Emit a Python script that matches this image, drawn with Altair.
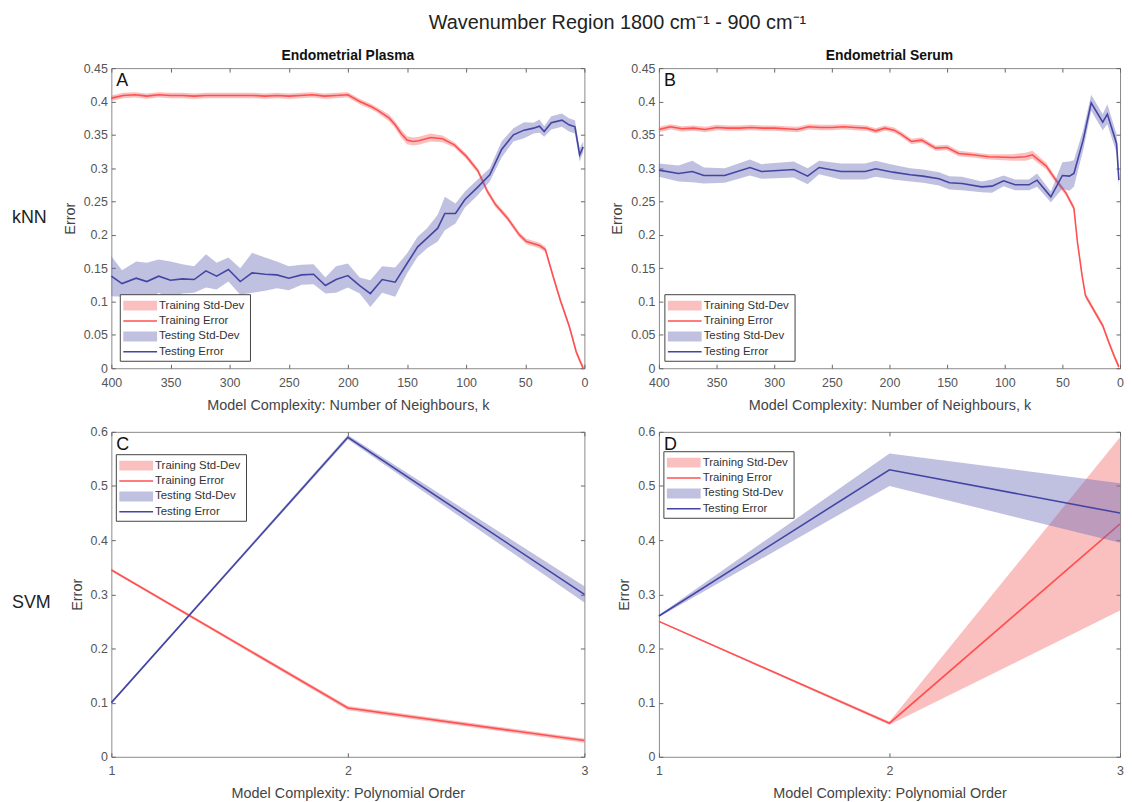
import altair as alt
import pandas as pd

# ---------------- data ----------------
# Panel A (kNN, Endometrial Plasma)
A_k_train = [400, 390, 380, 370, 360, 350, 340, 330, 320, 310, 300, 290, 280, 270, 260, 250, 240, 230,
             220, 210, 200, 190, 180, 175, 165, 160, 155, 150, 145, 140, 130, 120, 110, 100, 90, 82, 75,
             65, 55, 49, 38, 33, 26, 20, 13, 10, 7, 4, 1]
A_train = [0.405, 0.409, 0.41, 0.408, 0.41, 0.409, 0.409, 0.408, 0.409, 0.409, 0.409, 0.409, 0.409,
           0.408, 0.409, 0.408, 0.409, 0.41, 0.408, 0.409, 0.41, 0.4, 0.392, 0.387, 0.375, 0.365, 0.352,
           0.342, 0.34, 0.341, 0.346, 0.344, 0.335, 0.318, 0.296, 0.265, 0.245, 0.225, 0.2, 0.19, 0.184,
           0.178, 0.135, 0.1, 0.064, 0.045, 0.025, 0.012, 0.0]
A_train_sd = [0.004] * 24 + [0.005, 0.005, 0.006, 0.006, 0.006, 0.006, 0.006, 0.005] + [0.004] * 17

A_k_test = [400, 391, 379, 370, 360, 350, 340, 330, 320, 311, 301, 291, 281, 270, 260, 250, 239, 229,
            219, 210, 200, 190, 181, 171, 160, 150, 141, 133, 124, 118, 109, 101, 91, 80, 70, 60, 51,
            43, 38, 34, 28, 19, 13, 8, 4, 1]
A_test = [0.138, 0.127, 0.135, 0.130, 0.138, 0.132, 0.134, 0.133, 0.146, 0.138, 0.148, 0.130, 0.143,
          0.141, 0.140, 0.135, 0.140, 0.141, 0.124, 0.133, 0.139, 0.124, 0.112, 0.133, 0.129, 0.157,
          0.182, 0.195, 0.21, 0.232, 0.232, 0.253, 0.27, 0.29, 0.328, 0.35, 0.357, 0.36, 0.363, 0.355,
          0.368, 0.372, 0.365, 0.362, 0.32, 0.332]
A_test_sd = [0.03, 0.02, 0.025, 0.028, 0.025, 0.028, 0.022, 0.02, 0.025, 0.02, 0.018, 0.02, 0.03,
             0.025, 0.02, 0.018, 0.015, 0.015, 0.012, 0.02, 0.018, 0.012, 0.02, 0.02, 0.022, 0.015,
             0.015, 0.015, 0.02, 0.025, 0.015, 0.012, 0.012, 0.01, 0.012, 0.01, 0.012, 0.008, 0.01,
             0.008, 0.01, 0.01, 0.01, 0.01, 0.01, 0.008]

# Panel B (kNN, Endometrial Serum)
B_k_train = [400, 390, 380, 370, 360, 350, 340, 330, 320, 310, 300, 290, 280, 270, 260, 250, 240, 230,
             220, 212, 204, 196, 190, 181, 172, 160, 150, 140, 128, 114, 93, 82, 76, 64, 56, 47, 40,
             37, 33, 30, 22, 15, 10, 5, 1]
B_train = [0.358, 0.362, 0.359, 0.36, 0.358, 0.361, 0.36, 0.36, 0.361, 0.36, 0.36, 0.359, 0.358, 0.362,
           0.361, 0.361, 0.362, 0.361, 0.36, 0.356, 0.36, 0.357, 0.351, 0.34, 0.342, 0.33, 0.331, 0.322,
           0.32, 0.317, 0.316, 0.317, 0.32, 0.303, 0.283, 0.263, 0.24, 0.19, 0.14, 0.109, 0.085, 0.064,
           0.04, 0.018, 0.002]
B_train_sd = [0.004] * 30 + [0.005, 0.006, 0.006, 0.005] + [0.004] * 11

B_k_test = [400, 383, 371, 361, 343, 321, 311, 283, 271, 261, 242, 221, 212, 197, 182, 171, 157, 148,
            137, 120, 111, 101, 91, 79, 72, 60, 50, 44, 40, 32, 25, 15, 11, 3, 1]
B_test = [0.297, 0.292, 0.295, 0.289, 0.289, 0.301, 0.295, 0.298, 0.288, 0.301, 0.295, 0.295, 0.299,
          0.294, 0.29, 0.288, 0.284, 0.278, 0.277, 0.272, 0.273, 0.281, 0.275, 0.275, 0.282, 0.257,
          0.289, 0.288, 0.292, 0.342, 0.398, 0.369, 0.381, 0.337, 0.282]
B_test_sd = [0.01, 0.012, 0.016, 0.012, 0.011, 0.012, 0.011, 0.012, 0.012, 0.01, 0.012, 0.012, 0.012,
             0.011, 0.01, 0.01, 0.01, 0.01, 0.01, 0.008, 0.01, 0.008, 0.008, 0.008, 0.01, 0.008, 0.02,
             0.022, 0.02, 0.015, 0.012, 0.012, 0.015, 0.014, 0.01]

# Panel C (SVM, Endometrial Plasma)
C_order = [1, 2, 3]
C_train = [0.345, 0.09, 0.03]
C_train_sd = [0.002, 0.004, 0.004]
C_test = [0.10, 0.59, 0.30]
C_test_sd = [0.002, 0.004, 0.015]

# Panel D (SVM, Endometrial Serum)
D_order = [1, 2, 3]
D_train = [0.25, 0.062, 0.43]
D_train_sd = [0.001, 0.003, 0.16]
D_test = [0.26, 0.53, 0.45]
D_test_sd = [0.002, 0.03, 0.055]

KNN_TICKS = [0, 50, 100, 150, 200, 250, 300, 350, 400]
KNN_YTICKS = [0, 0.05, 0.1, 0.15, 0.2, 0.25, 0.3, 0.35, 0.4, 0.45]
SVM_TICKS = [1, 2, 3]
SVM_YTICKS = [0, 0.1, 0.2, 0.3, 0.4, 0.5, 0.6]
LEGEND_LABELS = ["Training Std-Dev", "Training Error", "Testing Std-Dev", "Testing Error"]

# ---------------- styling ----------------
FONT = "Liberation Sans"
RED = "#ff5050"
BLUE = "#4444a4"
RED_BAND = "#f26a6a"
BLUE_BAND = "#6a6ab8"
BAND_OP = 0.42
GRAY = "#8a8a8a"


def frame(x, m, sd):
    return pd.DataFrame({"x": x, "m": m,
                         "lo": [a - b for a, b in zip(m, sd)],
                         "hi": [a + b for a, b in zip(m, sd)]})


def legend_layers(x0, y0):
    w, h = 131, 67
    base = alt.Chart(alt.Data(values=[{}]))
    out = [base.mark_rect(fill="white", stroke="#444", strokeWidth=1).encode(
        x=alt.value(x0), x2=alt.value(x0 + w), y=alt.value(y0), y2=alt.value(y0 + h))]
    kinds = [("band", RED_BAND), ("line", RED), ("band", BLUE_BAND), ("line", BLUE)]
    for i, (lab, (kind, col)) in enumerate(zip(LEGEND_LABELS, kinds)):
        yc = y0 + 11 + i * 15.5
        if kind == "band":
            out.append(base.mark_rect(fill=col, opacity=BAND_OP).encode(
                x=alt.value(x0 + 3), x2=alt.value(x0 + 37), y=alt.value(yc - 5), y2=alt.value(yc + 5)))
        else:
            out.append(base.mark_rule(color=col, strokeWidth=1.5).encode(
                x=alt.value(x0 + 3), x2=alt.value(x0 + 37), y=alt.value(yc)))
        out.append(base.mark_text(text=lab, align="left", baseline="middle", font=FONT,
                                  fontSize=11.5, color="#333").encode(
            x=alt.value(x0 + 39), y=alt.value(yc)))
    return out


def panel(x_tr, tr, tr_sd, x_te, te, te_sd, *, domain, reverse, xticks, yticks, ydomain, yfmt,
          xtitle, width, height, letter, leg_xy, title=None, row_label=None, row_dy=0,
          xlab_pad=8, xtitle_pad=10):
    dtr = frame(x_tr, tr, tr_sd)
    dte = frame(x_te, te, te_sd)
    xs = alt.Scale(domain=domain, reverse=reverse, nice=False, zero=False)
    ys = alt.Scale(domain=ydomain, nice=False)
    ax_b = alt.Axis(orient="bottom", values=xticks, format=".0f", title=xtitle, offset=-4,
                    tickSize=4, labelPadding=xlab_pad, titlePadding=xtitle_pad, labelFlush=False,
                    labelOverlap=False, labelSeparation=0, labelBound=False)
    ax_l = alt.Axis(orient="left", values=yticks, format=yfmt, title="Error", offset=-4,
                    tickSize=4, labelPadding=4, titlePadding=6, labelOverlap=False)
    ax_t = alt.Axis(orient="top", values=xticks, labels=False, title=None, offset=-4,
                    tickSize=4)
    ax_r = alt.Axis(orient="right", values=yticks, labels=False, title=None, offset=-4,
                    tickSize=4)

    band_tr = alt.Chart(dtr).mark_area(color=RED_BAND, opacity=BAND_OP).encode(
        x=alt.X("x:Q", scale=xs, axis=ax_b), y=alt.Y("lo:Q", scale=ys, axis=ax_l), y2="hi:Q")
    line_tr = alt.Chart(dtr).mark_line(color=RED, strokeWidth=1.6).encode(
        x=alt.X("x:Q", scale=xs, axis=ax_t), y=alt.Y("m:Q", scale=ys, axis=ax_r))
    band_te = alt.Chart(dte).mark_area(color=BLUE_BAND, opacity=BAND_OP).encode(
        x=alt.X("x:Q", scale=xs, axis=None), y=alt.Y("lo:Q", scale=ys, axis=None), y2="hi:Q")
    line_te = alt.Chart(dte).mark_line(color=BLUE, strokeWidth=1.6).encode(
        x=alt.X("x:Q", scale=xs, axis=None), y=alt.Y("m:Q", scale=ys, axis=None))

    base = alt.Chart(alt.Data(values=[{}]))
    layers = [band_tr, line_tr, band_te, line_te]
    layers += legend_layers(*leg_xy)
    layers.append(base.mark_text(text=letter, align="left", baseline="top", font=FONT, fontSize=18,
                                 color="#111").encode(x=alt.value(5), y=alt.value(4)))
    if row_label:
        layers.append(base.mark_text(text=row_label, align="left", baseline="middle", font=FONT,
                                     fontSize=18, color="#222").encode(
            x=alt.value(-100), y=alt.value(height / 2 + row_dy)))
    ch = alt.layer(*layers).resolve_axis(x="independent", y="independent")
    props = dict(width=width, height=height)
    if title:
        props["title"] = alt.TitleParams(title, font=FONT, fontSize=14, fontWeight="bold",
                                         color="#111", anchor="middle", offset=-1)
    return ch.properties(**props)


knn_kw = dict(domain=[0, 400], reverse=True, xticks=KNN_TICKS, yticks=KNN_YTICKS, ydomain=[0, 0.45],
              yfmt=".2~f", xtitle="Model Complexity: Number of Neighbours, k", height=302)
svm_kw = dict(domain=[1, 3], reverse=False, xticks=SVM_TICKS, yticks=SVM_YTICKS, ydomain=[0, 0.6],
              yfmt=".1~f", xtitle="Model Complexity: Polynomial Order", height=327,
              xlab_pad=8, xtitle_pad=9)

pA = panel(A_k_train, A_train, A_train_sd, A_k_test, A_test, A_test_sd, width=476, letter="A",
           leg_xy=(9, 228), title="Endometrial Plasma", row_label="kNN", **knn_kw)
pB = panel(B_k_train, B_train, B_train_sd, B_k_test, B_test, B_test_sd, width=464, letter="B",
           leg_xy=(6, 228), title="Endometrial Serum", **knn_kw)
pC = panel(C_order, C_train, C_train_sd, C_order, C_test, C_test_sd, width=476, letter="C",
           leg_xy=(5, 23), row_label="SVM", row_dy=9, **svm_kw)
pD = panel(D_order, D_train, D_train_sd, D_order, D_test, D_test_sd, width=464, letter="D",
           leg_xy=(5, 20), **svm_kw)

chart = alt.concat(pA, pB, pC, pD, columns=2, spacing={"row": 64, "column": 75},
                   bounds="flush").properties(
    title=alt.TitleParams("Wavenumber Region 1800 cm⁻¹ - 900 cm⁻¹", font=FONT, fontSize=20,
                          fontWeight="normal", color="#222", anchor="middle", offset=16, dx=50),
    padding={"left": 3, "top": 2, "right": 0, "bottom": 0},
).configure_view(stroke=GRAY, strokeWidth=1).configure_axis(
    grid=False, domain=False, labelFont=FONT, labelFontSize=12.5, labelColor="#555",
    titleFont=FONT, titleFontSize=14.5, titleFontWeight="normal", titleColor="#444",
    tickColor="#666", tickWidth=1
)

chart.save("out.html", embed_options={"renderer": "svg", "actions": False})
